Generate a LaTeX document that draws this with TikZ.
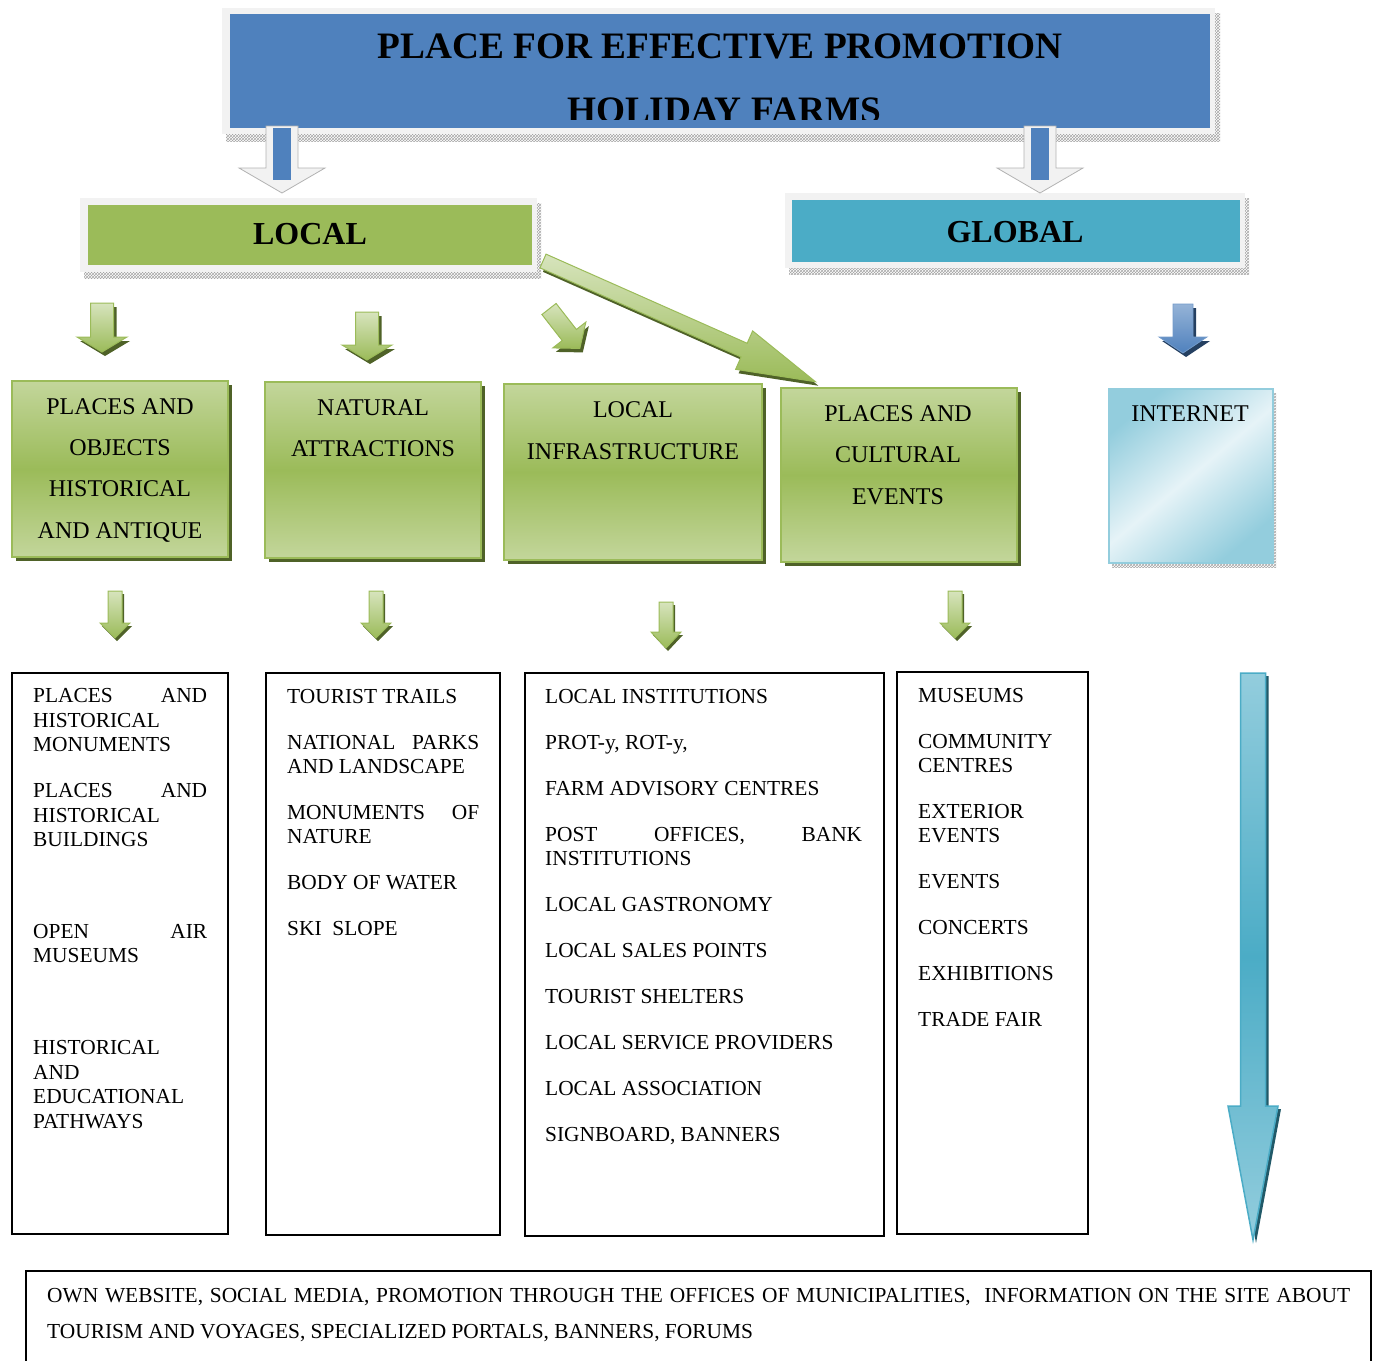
\documentclass[tikz,border=0pt]{standalone}
\usepackage{fontspec}
\setmainfont{Liberation Serif}
\usetikzlibrary{patterns,shadows}
\definecolor{tblue}{HTML}{4F81BD}
\definecolor{lgreen}{HTML}{9BBB59}
\definecolor{pgreen}{HTML}{C3D69B}
\definecolor{vpgreen}{HTML}{D7E4BD}
\definecolor{dgreen}{HTML}{4F6228}
\definecolor{gblue}{HTML}{4BACC6}
\definecolor{pblue}{HTML}{93CDDD}
\definecolor{vpblue}{HTML}{DBEEF4}
\definecolor{dblue}{HTML}{215968}
\definecolor{framec}{HTML}{F2F2F2}
\definecolor{abl}{HTML}{95B3D7}
\definecolor{adb}{HTML}{254061}
% down block arrow: style, cx, ytop, yhead, ytip, shaft half width, head half width
\newcommand\dnarr[7]{\path[#1] ({#2-#6},#3) -- ({#2+#6},#3) -- ({#2+#6},#4) -- ({#2+#7},#4) -- (#2,#5) -- ({#2-#7},#4) -- ({#2-#6},#4) -- cycle;}
% right block arrow in local coords: style, length, head length, shaft half, head half
\newcommand\rtarr[5]{\path[#1] (0,{-#4}) -- ({#2-#3},{-#4}) -- ({#2-#3},{-#5}) -- (#2,0) -- ({#2-#3},#5) -- ({#2-#3},#4) -- (0,#4) -- cycle;}
\tikzset{
  hatchsh/.style={pattern=crosshatch, pattern color=gray!70},
  ttext/.style={font=\fontsize{37.3}{44}\selectfont\bfseries, anchor=base, inner sep=0},
  htext/.style={font=\fontsize{32}{38}\selectfont\bfseries, anchor=base, inner sep=0},
  gtext/.style={font=\fontsize{24}{28}\selectfont, anchor=base, inner sep=0},
  ltext/.style={font=\fontsize{21.4}{24}\selectfont, anchor=base west, inner sep=0},
  gbox/.style={rectangle, inner sep=0, outer sep=0, anchor=north west, draw=lgreen, line width=2pt,
    top color=pgreen, bottom color=pgreen, middle color=lgreen,
    drop shadow={shadow xshift=4pt, shadow yshift=-4pt, fill=dgreen, opacity=1}},
  lbox/.style={rectangle, draw=black, line width=1.6pt, inner sep=0, outer sep=0, anchor=north west},
  garr/.style={top color=vpgreen, bottom color=lgreen, draw=lgreen, line width=1pt},
  gsh/.style={fill=dgreen},
}
\begin{document}
\begin{tikzpicture}[x=1pt,y=-1pt]
\useasboundingbox (0,0) rectangle (1373,1360);
\clip (0,0) rectangle (1373,1360);

% ---------- title box ----------
\fill[hatchsh] (226,13) rectangle (1220,141);
\fill[framec] (222,8) rectangle (1215,134);
\node[rectangle, fill=tblue, minimum width=980pt, minimum height=114pt, inner sep=0, anchor=north west] (title) at (230,14) {};
\begin{scope}
  \clip (230,14) rectangle (1210,119);
  \node[ttext] (t1) at (720,58) {PLACE FOR EFFECTIVE PROMOTION};
  \node[ttext] (t2) at (724,122) {HOLIDAY FARMS};
\end{scope}

% ---------- LOCAL / GLOBAL ----------
\fill[hatchsh] (84,203) rectangle (541,278);
\fill[framec] (80,198) rectangle (537,272);
\node[rectangle, fill=lgreen, minimum width=444pt, minimum height=60pt, inner sep=0, anchor=north west] (local) at (88,205) {};
\node[htext] (localt) at (310,244) {LOCAL};

\fill[hatchsh] (789,198) rectangle (1249,274);
\fill[framec] (785,193) rectangle (1245,268);
\node[rectangle, fill=gblue, minimum width=448pt, minimum height=62pt, inner sep=0, anchor=north west] (global) at (792,200) {};
\node[htext] (globalt) at (1015,242) {GLOBAL};

% blue arrows from the title
\dnarr{fill=framec, draw=gray!60, line width=0.8pt}{282}{126}{168}{193}{16}{43}
\fill[tblue] (273,128) rectangle (291,180);
\dnarr{fill=framec, draw=gray!60, line width=0.8pt}{1040}{126}{168}{193}{16}{43}
\fill[tblue] (1031,128) rectangle (1049,180);

% ---------- arrows under LOCAL ----------
\dnarr{gsh, shift={(3,4)}}{102}{303}{337}{352}{11.5}{25}
\dnarr{garr}{102}{303}{337}{352}{11.5}{25}
\dnarr{gsh, shift={(3,4)}}{367}{312}{345}{360}{11.5}{25}
\dnarr{garr}{367}{312}{345}{360}{11.5}{25}
\begin{scope}[shift={(552,313)}, rotate=-52]
  \rtarr{gsh}{50}{17}{9}{21}
\end{scope}
\begin{scope}[shift={(549,309)}, rotate=-52]
  \rtarr{garr}{50}{17}{9}{21}
\end{scope}
% big diagonal arrow LOCAL -> PLACES AND CULTURAL EVENTS
\begin{scope}[shift={(546,265)}, rotate=-23.9]
  \rtarr{gsh}{298}{78}{7.5}{21}
\end{scope}
\begin{scope}[shift={(543,261)}, rotate=-23.9]
  \rtarr{garr}{298}{78}{7.5}{21}
\end{scope}
% blue arrow under GLOBAL
\dnarr{fill=adb, shift={(3,4)}}{1183}{304}{337}{353}{10}{24}
\dnarr{top color=abl, bottom color=tblue, draw=tblue!80, line width=0.8pt}{1183}{304}{337}{353}{10}{24}

% ---------- green category boxes ----------
\node[gbox, minimum width=216pt, minimum height=176pt] (b1) at (12,381) {};
\node[gbox, minimum width=216pt, minimum height=176pt] (b2) at (265,382) {};
\node[gbox, minimum width=258pt, minimum height=176pt] (b3) at (504,384) {};
\node[gbox, minimum width=236pt, minimum height=174pt] (b4) at (781,388) {};
\fill[hatchsh] (1112,393) rectangle (1276,567);
\node[rectangle, inner sep=0, anchor=north west, draw=pblue, line width=1.5pt,
  left color=pblue, right color=pblue, middle color=vpblue!70!white, shading angle=40,
  minimum width=164pt, minimum height=174pt] (inet) at (1108,388) {};

\foreach \lt [count=\i] in {PLACES AND, OBJECTS, HISTORICAL, AND ANTIQUE}
  \node[gtext] (b1t\i) at (120,{414+41.4*(\i-1)}) {\lt};
\foreach \lt [count=\i] in {NATURAL, ATTRACTIONS}
  \node[gtext] (b2t\i) at (373,{415+41.5*(\i-1)}) {\lt};
\foreach \lt [count=\i] in {LOCAL, INFRASTRUCTURE}
  \node[gtext] (b3t\i) at (633,{417+42*(\i-1)}) {\lt};
\foreach \lt [count=\i] in {PLACES AND, CULTURAL, EVENTS}
  \node[gtext] (b4t\i) at (898,{421+41.5*(\i-1)}) {\lt};
\node[gtext] (inett) at (1190,421) {INTERNET};

% ---------- small arrows to the lists ----------
\foreach \cx/\ya/\yb/\yc [count=\i] in {115/591/623/638, 376/591/623/638, 666/602/632/648, 955/591/623/638}{
  \dnarr{gsh, shift={(2,3)}}{\cx}{\ya}{\yb}{\yc}{7}{15}
  \dnarr{garr}{\cx}{\ya}{\yb}{\yc}{7}{15}
}
% big blue arrow to the bottom box
\dnarr{fill=dblue, shift={(3,3)}}{1253}{673}{1106}{1240}{12.5}{25}
\dnarr{top color=pblue, bottom color=pblue, middle color=gblue, draw=gblue, line width=1.5pt}{1253}{673}{1106}{1240}{12.5}{25}

% ---------- list boxes ----------
\node[lbox, minimum width=216pt, minimum height=561pt] (l1) at (12,673) {};
\node[lbox, minimum width=234pt, minimum height=562pt] (l2) at (266,673) {};
\node[lbox, minimum width=359pt, minimum height=563pt] (l3) at (525,673) {};
\node[lbox, minimum width=191pt, minimum height=562pt] (l4) at (897,672) {};

\foreach \ly/\lt [count=\i] in {702/{\makebox[174pt][s]{PLACES AND}}, 727/HISTORICAL, 751/MONUMENTS,
  797/{\makebox[174pt][s]{PLACES AND}}, 822/HISTORICAL, 846/BUILDINGS,
  938/{\makebox[174pt][s]{OPEN AIR}}, 962/MUSEUMS,
  1054/HISTORICAL, 1079/AND, 1103/EDUCATIONAL, 1128/PATHWAYS}
  \node[ltext] (l1t\i) at (33,\ly) {\lt};

\foreach \ly/\lt [count=\i] in {703/TOURIST TRAILS, 749/{\makebox[192pt][s]{NATIONAL PARKS}}, 773/AND LANDSCAPE,
  819/{\makebox[192pt][s]{MONUMENTS OF}}, 843/NATURE, 889/BODY OF WATER, 935/{SKI\ \ SLOPE}}
  \node[ltext] (l2t\i) at (287,\ly) {\lt};

\foreach \ly/\lt [count=\i] in {703/LOCAL INSTITUTIONS, 749/{PROT-y, ROT-y,}, 795/FARM ADVISORY CENTRES,
  841/{\makebox[317pt][s]{POST OFFICES, BANK}}, 865/INSTITUTIONS, 911/LOCAL GASTRONOMY,
  957/LOCAL SALES POINTS, 1003/TOURIST SHELTERS, 1049/LOCAL SERVICE PROVIDERS,
  1095/LOCAL ASSOCIATION, 1141/{SIGNBOARD, BANNERS}}
  \node[ltext] (l3t\i) at (545,\ly) {\lt};

\foreach \ly/\lt [count=\i] in {702/MUSEUMS, 748/COMMUNITY, 772/CENTRES, 818/EXTERIOR, 842/EVENTS,
  888/EVENTS, 934/CONCERTS, 980/EXHIBITIONS, 1026/TRADE FAIR}
  \node[ltext] (l4t\i) at (918,\ly) {\lt};

% ---------- bottom box ----------
\node[lbox, line width=1.3pt, minimum width=1345pt, minimum height=140pt] (web) at (26,1271) {};
\node[ltext] (webt1) at (47,1302) {\makebox[1303pt][s]{OWN WEBSITE, SOCIAL MEDIA, PROMOTION THROUGH THE OFFICES OF MUNICIPALITIES,\ \ INFORMATION ON THE SITE ABOUT}};
\node[ltext] (webt2) at (47,1338) {TOURISM AND VOYAGES, SPECIALIZED PORTALS, BANNERS, FORUMS};
\end{tikzpicture}
\end{document}
